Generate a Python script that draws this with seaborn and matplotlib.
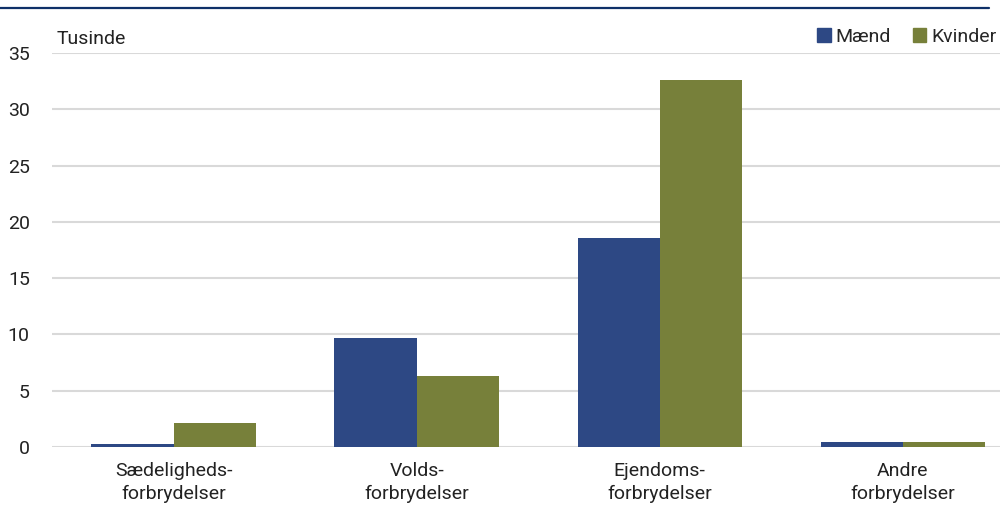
import numpy as np
import pandas as pd
import matplotlib
matplotlib.use("Agg")
import matplotlib.pyplot as plt
import seaborn as sns

categories = ["Sædeligheds-\nforbrydelser", "Volds-\nforbrydelser", "Ejendoms-\nforbrydelser", "Andre\nforbrydelser"]
maend = [0.25, 9.7, 18.55, 0.45]
kvinder = [2.1, 6.3, 32.6, 0.4]
series = ["Mænd", "Kvinder"]
colors = ["#2D4884", "#77803A"]

df = pd.DataFrame({
    "kategori": categories * 2,
    "værdi": maend + kvinder,
    "køn": [series[0]] * 4 + [series[1]] * 4,
})

sns.set_style("white")
plt.rcParams['font.family'] = ['Roboto', 'DejaVu Sans']
txt = "#222222"
fs = 14

fig = plt.figure(figsize=(10.05, 5.11), dpi=100)
ax = fig.add_axes([52 / 1005, 1 - 447 / 511, 948 / 1005, (447 - 53) / 511])

sns.barplot(data=df, x="kategori", y="værdi", hue="køn", palette=colors,
            width=0.676, saturation=1, linewidth=0, ax=ax, legend=False)

ax.set_ylim(0, 35)
ax.set_xlim(-0.5, 3.4)
ax.set_yticks(np.arange(0, 36, 5))
ax.yaxis.grid(True, color="#D9D9D9", linewidth=1.5)
ax.set_axisbelow(True)
for s in ax.spines.values():
    s.set_visible(False)
ax.tick_params(axis="y", length=0, pad=16, labelsize=fs, labelcolor=txt)
ax.tick_params(axis="x", length=0, pad=11, labelsize=fs, labelcolor=txt)
for lab in ax.get_xticklabels():
    lab.set_linespacing(1.3)
ax.set_xlabel("")
ax.set_ylabel("")

ax.text(57 / 1005, 1 - 39 / 511, "Tusinde", transform=fig.transFigure,
        fontsize=fs, color=txt, va="center", ha="left")

# legend
handles = [plt.Rectangle((0, 0), 1, 1, color=c) for c in colors]
fig.legend(handles, series, loc="center right", bbox_to_anchor=(1.0, 1 - 37 / 511),
           ncol=2, frameon=False, fontsize=fs, handlelength=0.7, handleheight=0.7,
           handletextpad=0.25, columnspacing=1.1, borderaxespad=0.05)

# top rule
fig.add_artist(plt.Line2D([0, 989 / 1005], [1 - 8.5 / 511] * 2, transform=fig.transFigure,
                          color="#0E3068", linewidth=1.6))

fig.savefig("out.png", dpi=100)
